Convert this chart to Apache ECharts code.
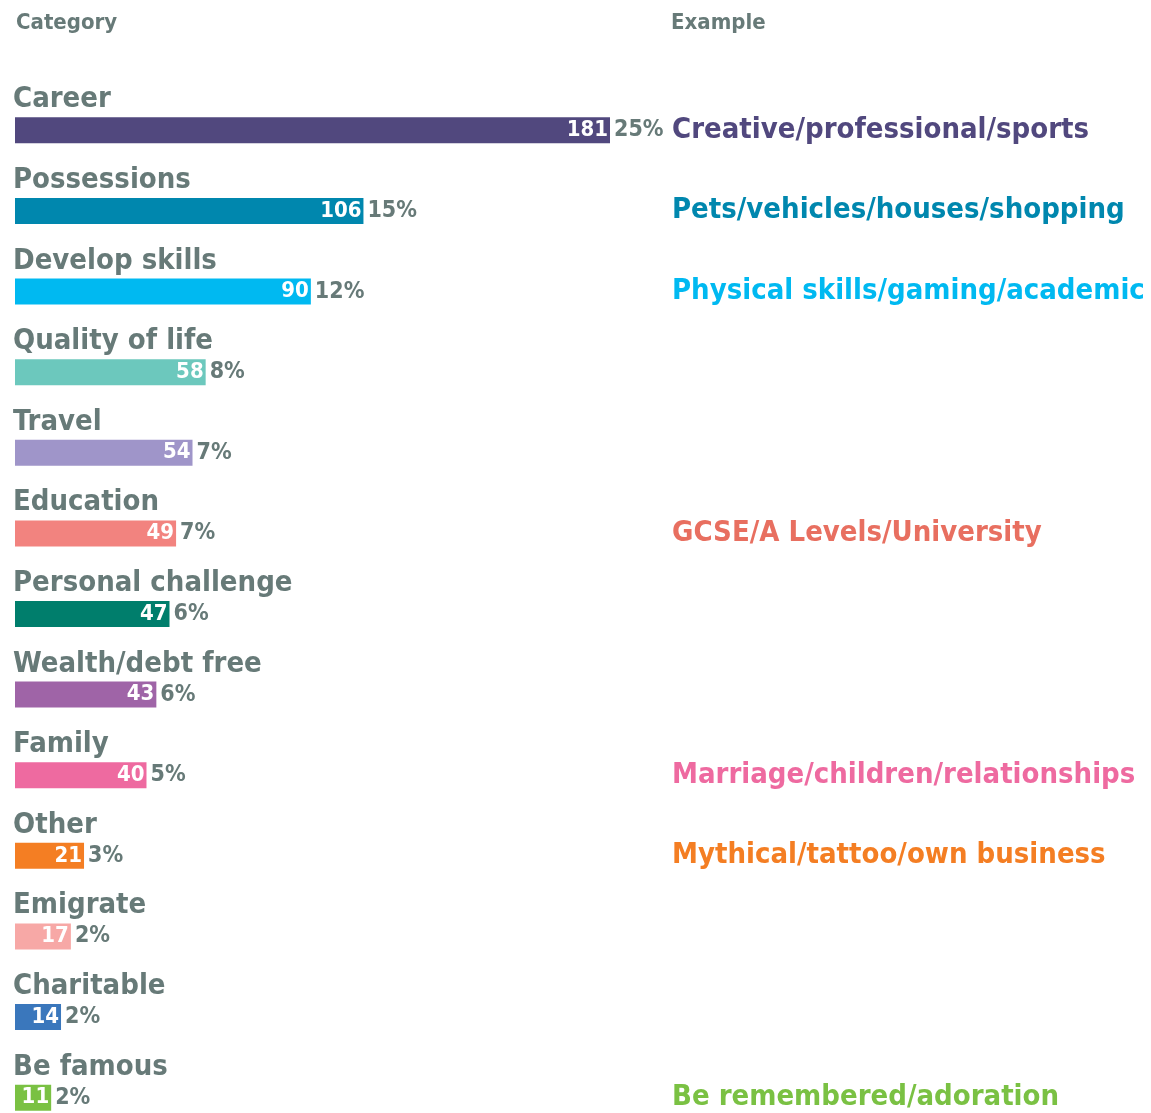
<!DOCTYPE html>
<html>
<head>
<meta charset="utf-8">
<script src="https://cdn.jsdelivr.net/npm/echarts@6/dist/echarts.min.js"></script>
<style>
html,body{margin:0;padding:0;background:#fff;}
#chart{width:1151px;height:1113px;}
</style>
</head>
<body>
<div id="chart"></div>
<script>
const categories = ['Career','Possessions','Develop skills','Quality of life','Travel','Education','Personal challenge','Wealth/debt free','Family','Other','Emigrate','Charitable','Be famous'];
const counts = [181,106,90,58,54,49,47,43,40,21,17,14,11];
const percents = ['25%','15%','12%','8%','7%','7%','6%','6%','5%','3%','2%','2%','2%'];
const barColors = ['#51487e','#0087ae','#00b9f1','#6cc8bd','#9f95c9','#f2837f','#007e6c','#9f64a7','#ee6aa0','#f47e23','#f7a8a6','#3a77bc','#7ac143'];
const examples = ['Creative/professional/sports','Pets/vehicles/houses/shopping','Physical skills/gaming/academic','','','GCSE/A Levels/University','','','Marriage/children/relationships','Mythical/tattoo/own business','','','Be remembered/adoration'];
const exampleColors = ['#51487e','#0087ae','#00b9f1','#6cc8bd','#9f95c9','#e86f60','#007e6c','#9f64a7','#ee6aa0','#f47e23','#f7a8a6','#3a77bc','#7ac143'];

const FONT = '"Liberation Sans Narrow","DejaVu Sans Condensed",sans-serif';
const GREY = '#677a78';

const chart = echarts.init(document.getElementById('chart'));
chart.setOption({
  animation: false,
  backgroundColor: '#ffffff',
  title: [
    {text: 'Category', left: 16, top: 12, padding: 0, textStyle: {fontFamily: FONT, fontSize: 22, fontWeight: 'bold', color: GREY}},
    {text: 'Example', left: 671, top: 12, padding: 0, textStyle: {fontFamily: FONT, fontSize: 22, fontWeight: 'bold', color: GREY}}
  ],
  grid: {left: 15, top: 90, width: 595, height: 1048, containLabel: false, outerBoundsMode: 'none'},
  xAxis: {type: 'value', min: 0, max: 181, show: false},
  yAxis: [
    {type: 'category', data: categories, inverse: true, show: false},
    {type: 'category', data: examples, inverse: true, position: 'right',
     axisLine: {show: false}, axisTick: {show: false}, splitLine: {show: false},
     axisLabel: {margin: 62, fontFamily: FONT, fontSize: 29, fontWeight: 'bold',
       color: (v, i) => exampleColors[i]}}
  ],
  series: [
    {
      type: 'bar', yAxisIndex: 0, barWidth: 26, barGap: '-100%',
      data: counts.map((v, i) => ({value: v, itemStyle: {color: barColors[i]}})),
      label: {show: true, position: [-2, -3], align: 'left', verticalAlign: 'bottom',
        formatter: p => categories[p.dataIndex],
        fontFamily: FONT, fontSize: 29, fontWeight: 'bold', color: GREY}
    },
    {
      type: 'bar', yAxisIndex: 0, barWidth: 26, barGap: '-100%',
      data: counts, itemStyle: {color: 'transparent'},
      label: {show: true, position: 'insideRight', distance: 2,
        fontFamily: FONT, fontSize: 22, fontWeight: 'bold', color: '#ffffff'}
    },
    {
      type: 'bar', yAxisIndex: 0, barWidth: 26, barGap: '-100%',
      data: counts, itemStyle: {color: 'transparent'},
      label: {show: true, position: 'right', distance: 4,
        formatter: p => percents[p.dataIndex],
        fontFamily: FONT, fontSize: 23, fontWeight: 'bold', color: GREY}
    }
  ]
});
</script>
</body>
</html>
